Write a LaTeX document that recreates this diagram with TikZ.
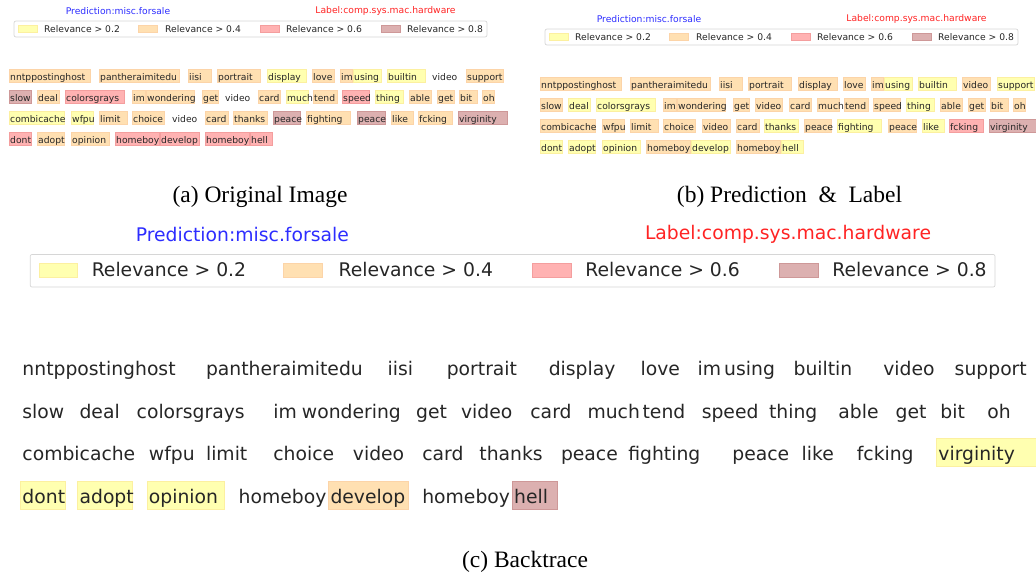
\documentclass[tikz,border=0pt]{standalone}
\usepackage{fontspec}
\setmainfont{Liberation Serif}
\newfontfamily\dejavu{DejaVu Sans}
\usetikzlibrary{positioning}
\definecolor{relY}{RGB}{255,255,176}
\definecolor{edgeY}{RGB}{252,240,160}
\definecolor{relO}{RGB}{255,224,178}
\definecolor{edgeO}{RGB}{252,212,168}
\definecolor{relR}{RGB}{255,178,178}
\definecolor{edgeR}{RGB}{244,158,158}
\definecolor{relD}{RGB}{220,176,176}
\definecolor{edgeD}{RGB}{206,152,152}
\definecolor{relN}{RGB}{255,255,255}
\definecolor{edgeN}{RGB}{255,255,255}
\definecolor{predBlue}{RGB}{45,45,255}
\definecolor{labRed}{RGB}{255,35,35}

% cell left / cell right / word / level in (a) / (b) / (c)
\def\rowone{9/90/nntppostinghost/O/O/N, 99/179/pantheraimitedu/O/O/N,
  188/211/iisi/O/O/N, 217/260/portrait/O/O/N, 267/306/display/Y/O/N,
  312/334/love/O/O/N, 340/352/im/O/O/N, 353/381/using/Y/Y/N,
  387/425/builtin/Y/Y/N, 431/459/video/N/O/N, 466/503/support/O/Y/N}
\def\rowtwo{9/31/slow/D/O/N, 37/59/deal/O/Y/N, 65/124/colorsgrays/R/Y/N,
  132/145/im/O/O/N, 146/194/wondering/O/O/N, 202/218/get/O/O/N,
  224/251/video/N/O/N, 258/280/card/O/O/N, 286/308/much/Y/O/N,
  313/337/tend/O/O/N, 342/369/speed/R/O/N, 375/403/thing/Y/Y/N,
  409/431/able/O/O/N, 437/454/get/O/O/N, 459/477/bit/O/O/N, 482/494/oh/O/O/N}
\def\rowthree{9/64/combicache/Y/O/N, 71/93/wfpu/Y/O/N, 99/127/limit/O/O/N,
  132/164/choice/O/O/N, 171/199/video/N/O/N, 205/228/card/O/O/N,
  233/267/thanks/O/Y/N, 273/300/peace/D/O/N, 306/350/fighting/O/Y/N,
  357/385/peace/D/O/N, 391/413/like/O/Y/N, 418/452/fcking/O/R/N,
  458/507/virginity/D/D/Y}
\def\rowfour{9/31/dont/R/Y/Y, 37/64/adopt/O/Y/Y, 71/109/opinion/O/Y/Y,
  115/159/homeboy/R/O/N, 160/199/develop/R/Y/O, 205/249/homeboy/R/O/N,
  250/272/hell/R/Y/D}

% one row of highlighted words: panel, row, y, key, list
\newcommand{\wordrow}[5]{%
  \foreach \xl/\xr/\wrd/\ka/\kb/\kc [count=\i] in #5 {
    \pgfmathsetmacro\wdd{\xr-\xl-2}
    \edef\lvl{\csname k#4\endcsname}
    \node[word, fill=rel\lvl, draw=edge\lvl] (#1-#2-\i) at (\xl,#3)
      {\makebox[\wdd pt][l]{\wrd}};
  }}

% one panel: name, shift, scale, key
\newcommand{\wordpanel}[4]{%
  \begin{scope}[shift={#2}, scale=#3, transform shape,
      font=\dejavu\fontsize{9.2}{11}\selectfont]
    \node[text=predBlue] (#1-pred) at (118,11) {Prediction:misc.forsale};
    \node[text=labRed] (#1-lab) at (385.5,11) {Label:comp.sys.mac.hardware};
    \node[legframe] (#1-leg) at (250.5,29) {};
    \foreach \px/\tx/\lv/\val [count=\j] in
        {18/44/Y/0.2, 138/165/O/0.4, 260/286/R/0.6, 381/407/D/0.8} {
      \node[patch, fill=rel\lv, draw=edge\lv] (#1-p\j) at (\px,28.6) {};
      \node[anchor=west, inner sep=0pt, text=black!85] (#1-t\j) at (\tx,28.6)
        {Relevance > \val};
    }
    \wordrow{#1}{1}{76}{#4}{\rowone}
    \wordrow{#1}{2}{97}{#4}{\rowtwo}
    \wordrow{#1}{3}{118}{#4}{\rowthree}
    \wordrow{#1}{4}{139}{#4}{\rowfour}
  \end{scope}}

\begin{document}
\begin{tikzpicture}[x=1pt, y=-1pt,
    word/.style={anchor=west, inner xsep=1pt, inner ysep=0pt,
        minimum height=13.4, text height=10.5pt, text depth=2.1pt,
        line width=0.45pt, text=black!85},
    legframe/.style={draw=black!16, fill=white, rounded corners=2pt,
        line width=0.7pt, minimum width=473, minimum height=16, inner sep=0pt},
    patch/.style={anchor=west, minimum width=19, minimum height=7,
        inner sep=0pt, line width=0.5pt},
    captext/.style={font=\fontsize{23.5}{26}\selectfont}
]
    \useasboundingbox (0,0) rectangle (1036,571);
    \wordpanel{a}{(0,0)}{1}{a}
    \wordpanel{b}{(531,8)}{1}{b}
    \wordpanel{c}{(1.6,211.6)}{2.04}{c}
    \node[captext] (capa) at (260,197) {(a) Original Image};
    \node[captext] (capb) at (789.5,197) {(b) Prediction \ \& \ Label};
    \node[captext] (capc) at (525,562) {(c) Backtrace};
\end{tikzpicture}
\end{document}
